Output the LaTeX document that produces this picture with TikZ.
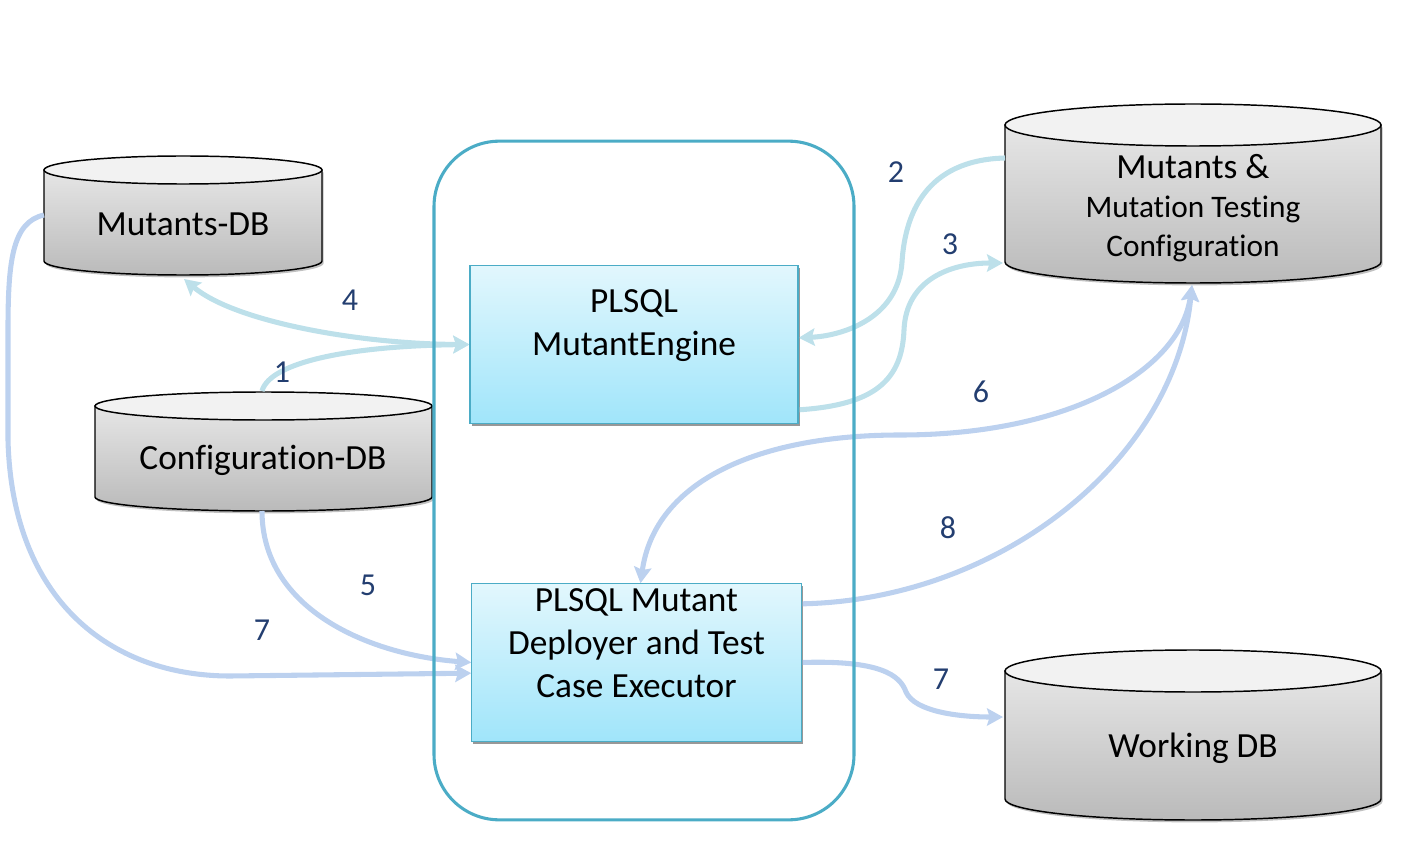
\documentclass[tikz,border=0pt]{standalone}
\usepackage{fontspec}
\setmainfont{Carlito}[Ligatures=NoCommon, RawFeature={-liga;-clig;-calt}]
\usetikzlibrary{arrows.meta,shadows}
\definecolor{arrA}{RGB}{189,224,234}
\definecolor{arrB}{RGB}{188,209,239}
\definecolor{numblue}{RGB}{35,62,112}
\definecolor{edgeteal}{RGB}{75,172,198}
\definecolor{boxtop}{RGB}{226,247,253}
\definecolor{boxbot}{RGB}{160,229,250}
\definecolor{cyltop}{RGB}{230,230,230}
\definecolor{cylbot}{RGB}{186,186,186}
\definecolor{cyllid}{RGB}{242,242,242}
\tikzset{
  cylline/.style={draw=black, line width=1.1pt},
  cylshadow/.style={drop shadow={shadow xshift=1.2pt, shadow yshift=-1.8pt, opacity=0.35, fill=black!70}},
  procbox/.style={draw=edgeteal, line width=0.9pt, top color=boxtop, bottom color=boxbot,
    minimum width=246pt, inner sep=0pt,
    drop shadow={shadow xshift=1.2pt, shadow yshift=-1.8pt, opacity=0.35, fill=black!70}},
  bigtxt/.style={font=\fontsize{26.5}{32.3}\selectfont, align=center, inner sep=0pt},
  numlbl/.style={text=numblue, font=\fontsize{24}{28}\selectfont, inner sep=0pt},
  tipA/.tip={Stealth[length=12pt,width=13pt,inset=2pt]},
  conA/.style={draw=arrA, line width=3.8pt, -tipA},
  conB/.style={draw=arrB, line width=3.8pt, -tipA},
  both/.style={tipA-tipA},
}
\newcommand\dbcyl[5]{%
  \pgfmathsetmacro\cylrx{(#2-#1)/2}%
  \pgfmathsetmacro\cylcx{(#1+#2)/2}%
  \draw[cylline, cylshadow, top color=cyltop, bottom color=cylbot]
    (#1,#3) -- (#1,#4) arc[start angle=180,end angle=360,x radius=\cylrx,y radius=#5] -- (#2,#3) -- cycle;
  \draw[cylline, fill=cyllid] (\cylcx,#3) ellipse[x radius=\cylrx,y radius=#5];
}
\begin{document}
\begin{tikzpicture}[x=0.75pt,y=0.75pt]
\useasboundingbox (0,0) rectangle (1428,-852);

% databases
\dbcyl{44}{322}{-170}{-261}{14}
\dbcyl{95}{432}{-406}{-497}{14}
\dbcyl{1005}{1381}{-125}{-262}{21}
\dbcyl{1005}{1381}{-671}{-799}{21}

\node[bigtxt] (mdb) at (183,-224) {Mutants-DB};
\node[bigtxt] (cdb) at (263,-460) {Configuration-DB};
\node[bigtxt, font=\fontsize{23.5}{29.5}\selectfont] (mtc) at (1193,-208)
  {{\fontsize{26.5}{29.5}\selectfont Mutants \&}\\Mutation Testing\\Configuration};
\node[bigtxt] (wdb) at (1193,-748) {Working DB};

% connector end points on the databases
\coordinate (mdbB) at (184,-279);
\coordinate (mdbL) at (44,-215);
\coordinate (cdbT) at (262,-391);
\coordinate (cdbB) at (262,-511);
\coordinate (mtcL1) at (1005,-158);
\coordinate (mtcL2) at (1003,-263);
\coordinate (mtcB) at (1192,-285);
\coordinate (wdbL) at (1003,-717);

% process boxes (placed first so that connectors can use them)
\node[procbox, minimum height=119pt] (eng) at (634,-344.5) {};
\node[procbox, minimum height=118pt, minimum width=247pt] (dep) at (636.5,-662.5) {};

% connectors
\draw[conA, both] (mdbB) .. controls (235,-322) and (360,-344) .. (eng.west);
\draw[conA] (cdbT) .. controls (270,-362) and (350,-346) .. (eng.west);
\draw[conA] (mtcL1) .. controls (925,-160) and (905,-215) .. (902,-262)
  .. controls (898,-320) and (840,-336) .. ([yshift=5pt]eng.east);
\draw[conA] ([yshift=-49pt]eng.east) .. controls (875,-405) and (902,-380) .. (904,-330)
  .. controls (906,-280) and (950,-263) .. (mtcL2);
\draw[conB, both] ([xshift=3pt]dep.north) .. controls (655,-480) and (760,-435) .. (900,-435)
  .. controls (1070,-435) and (1180,-370) .. (mtcB);
\draw[conB] ([yshift=44pt]dep.east) .. controls (1000,-600) and (1175,-460) .. (mtcB);
\draw[conB] (cdbB) .. controls (262,-610) and (370,-655) .. (dep.west);
\draw[conB] (mdbL) .. controls (12,-222) and (8,-262) .. (8,-330) -- (8,-440)
  .. controls (12,-600) and (110,-676) .. (230,-676) -- ([yshift=-8pt]dep.west);
\draw[conB] (dep.east) .. controls (880,-660) and (900,-675) .. (906,-692)
  .. controls (915,-712) and (960,-717) .. (wdbL);

% container
\node[draw=edgeteal, line width=2.3pt, rounded corners=49pt, minimum width=315pt,
  minimum height=509pt, inner sep=0pt] (cont) at (644,-480.5) {};

% redraw boxes on top of the container
\node[procbox, minimum height=119pt] (eng2) at (634,-344.5) {};
\node[procbox, minimum height=118pt, minimum width=247pt] (dep2) at (636.5,-662.5) {};

\node[bigtxt] (engt) at (634,-325.5) {PLSQL\\MutantEngine};
\node[bigtxt] (dept) at (636.5,-643) {PLSQL Mutant\\Deployer and Test\\Case Executor};

% labels
\node[numlbl] (n2) at (896,-172) {2};
\node[numlbl] (n3) at (950,-244) {3};
\node[numlbl] (n4) at (350,-300) {4};
\node[numlbl] (n1) at (282,-372) {1};
\node[numlbl] (n6) at (981,-392) {6};
\node[numlbl] (n8) at (948,-528) {8};
\node[numlbl] (n5) at (368,-585) {5};
\node[numlbl] (n7a) at (262,-630) {7};
\node[numlbl] (n7b) at (941,-679) {7};
\end{tikzpicture}
\end{document}
